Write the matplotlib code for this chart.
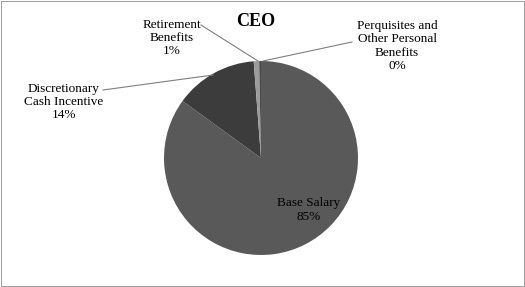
import matplotlib.pyplot as plt

categories = [
    "Base Salary",
    "Discretionary\nCash Incentive",
    "Retirement\nBenefits",
    "Perquisites and\nOther Personal\nBenefits",
]
shares = [85.0, 13.8, 0.9, 0.3]
colors = ["#5a595a", "#3d3c3d", "#9c9c9c", "#4a4a4a"]

# label text centres and leader line ends, in pixel coordinates (y up)
label_pos = [(309, 77), (64, 185), (172, 249), (397, 241)]
leaders = [None, ((103, 197), (213, 212)), ((201, 262), (258, 226)), ((352, 245), (263, 226))]


def main():
    plt.rcParams["font.family"] = ["Liberation Serif", "DejaVu Serif"]

    fig = plt.figure(figsize=(5.25, 2.87), dpi=100)
    ax = fig.add_axes([0, 0, 1, 1])

    ax.pie(
        shares,
        colors=colors,
        startangle=90,
        counterclock=False,
        center=(261, 129),
        radius=97,
        wedgeprops=dict(linewidth=0),
        frame=True,
    )
    ax.set_xlim(0, 525)
    ax.set_ylim(0, 287)
    ax.set_aspect("equal")
    ax.axis("off")

    for name, val, pos, lead in zip(categories, shares, label_pos, leaders):
        ax.text(pos[0], pos[1], f"{name}\n{val:.0f}%", ha="center", va="center",
                fontsize=9.5, linespacing=1.15, color="black")
        if lead is not None:
            (x0, y0), (x1, y1) = lead
            ax.plot([x0, x1], [y0, y1], color="#7f7f7f", linewidth=0.8)

    ax.text(256, 265, "CEO", ha="center", va="center", fontsize=13, fontweight="bold")

    # outer frame of the chart area
    ax.plot([1, 524, 524, 1, 1], [1, 1, 286, 286, 1], color="#a0a0a0",
            linewidth=0.75, clip_on=False)

    fig.savefig("out.png", dpi=100)


if __name__ == "__main__":
    main()
